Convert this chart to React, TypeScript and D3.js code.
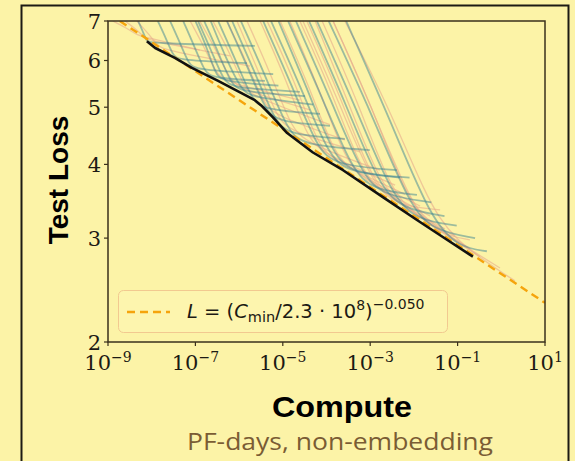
import React from 'react';
import * as d3 from 'd3';

// every point is [log10 compute (PF-days), test loss]
type Pt = [number, number];

const yTickValues = [2, 3, 4, 5, 6, 7];
const xTickExponents = [-9, -7, -5, -3, -1, 1];

// lower envelope of all runs (black)
const frontier: Pt[] = [
  [-8.11, 6.47], [-7.92, 6.3], [-7.47, 6.06], [-7.08, 5.83], [-6.48, 5.54],
  [-5.64, 5.14], [-5.5, 5.04], [-5.22, 4.8], [-4.9, 4.52], [-4.31, 4.19],
  [-3.62, 3.91], [-2.71, 3.52], [-1.93, 3.22], [-1.33, 3.01], [-0.65, 2.79],
];

// power-law fit shown in the legend (dashed)
const fitLine: Pt[] = [[-8.73, 7.0], [1.0, 2.33]];

// learning curves of the smaller models, the ones that plateau (teal)
const tealRuns: Pt[][] = [
  [[-8.31, 7.0], [-8.21, 6.74], [-8.12, 6.48], [-8.06, 6.42], [-5.64, 6.35]],
  [[-7.86, 7.0], [-7.67, 6.53], [-7.51, 6.12], [-7.4, 6.01], [-5.82, 5.94]],
  [[-7.58, 7.0], [-7.35, 6.42], [-7.15, 5.92], [-7.01, 5.78], [-5.22, 5.69]],
  [[-7.28, 7.0], [-7.02, 6.33], [-6.79, 5.75], [-6.62, 5.6], [-5.41, 5.54]],
  [[-7.0, 7.0], [-6.75, 6.35], [-6.55, 5.72], [-6.4, 5.52], [-5.1, 5.44]],
  [[-6.94, 7.0], [-6.63, 6.22], [-6.36, 5.56], [-6.16, 5.39], [-4.61, 5.31]],
  [[-6.8, 7.0], [-6.47, 6.18], [-6.19, 5.49], [-5.98, 5.31], [-4.49, 5.22]],
  [[-6.65, 7.0], [-6.3, 6.05], [-5.95, 5.35], [-5.72, 5.2], [-4.3, 5.05]],
  [[-6.48, 7.0], [-6.07, 5.99], [-5.71, 5.16], [-5.45, 4.95], [-4.15, 4.87]],
  [[-6.28, 7.0], [-5.81, 5.86], [-5.4, 4.95], [-5.11, 4.72], [-3.92, 4.65]],
  [[-6.16, 7.0], [-5.64, 5.73], [-5.18, 4.74], [-4.86, 4.49], [-3.58, 4.42]],
  [[-5.96, 7.0], [-5.39, 5.63], [-4.89, 4.57], [-4.54, 4.31], [-3.01, 4.23]],
  [[-5.45, 7.0], [-4.79, 5.44], [-4.22, 4.27], [-3.81, 3.99], [-2.39, 3.91]],
  [[-5.27, 7.0], [-4.57, 5.37], [-3.97, 4.17], [-3.53, 3.88], [-2.32, 3.8]],
  [[-5.1, 7.0], [-4.45, 5.4], [-3.85, 4.15], [-3.4, 3.86], [-2.1, 3.8]],
  [[-4.88, 7.0], [-4.1, 5.2], [-3.42, 3.92], [-2.94, 3.62], [-1.93, 3.55]],
  [[-4.7, 7.0], [-3.9, 5.15], [-3.2, 3.85], [-2.7, 3.54], [-1.6, 3.45]],
  [[-4.4, 7.0], [-3.55, 5.05], [-2.8, 3.68], [-2.25, 3.36], [-1.3, 3.27]],
  [[-4.22, 7.0], [-3.3, 4.94], [-2.5, 3.53], [-1.93, 3.22], [-1.02, 3.15]],
  [[-3.95, 7.0], [-2.95, 4.85], [-2.1, 3.4], [-1.55, 3.09], [-0.6, 3.0]],
  [[-3.55, 7.0], [-2.51, 4.7], [-1.6, 3.21], [-0.95, 2.89], [-0.33, 2.85]],
];

// learning curves drawn in pale orange
const orangeRuns: Pt[][] = [
  [[-8.89, 7.0], [-8.59, 6.82], [-8.34, 6.63], [-8.15, 6.57], [-6.9, 6.25]],
  [[-8.61, 7.0], [-8.36, 6.78], [-8.15, 6.54], [-7.99, 6.47], [-6.21, 6.11]],
  [[-8.34, 7.0], [-8.08, 6.67], [-7.86, 6.35], [-7.7, 6.25], [-5.75, 5.87]],
  [[-7.12, 7.0], [-6.8, 6.33], [-6.52, 5.7], [-6.32, 5.52], [-4.61, 5.14]],
  [[-6.9, 7.0], [-6.53, 6.26], [-6.21, 5.57], [-5.98, 5.37], [-4.38, 4.95]],
  [[-6.6, 7.0], [-6.21, 6.18], [-5.88, 5.39], [-5.64, 5.2], [-3.92, 4.67]],
  [[-6.28, 7.0], [-5.84, 5.99], [-5.45, 5.09], [-5.18, 4.84], [-3.58, 4.4]],
  [[-6.05, 7.0], [-5.56, 5.76], [-5.14, 4.83], [-4.84, 4.54], [-3.23, 4.2]],
  [[-5.82, 7.0], [-5.29, 5.73], [-4.82, 4.65], [-4.49, 4.35], [-2.78, 3.91]],
  [[-5.52, 7.0], [-4.95, 5.63], [-4.46, 4.48], [-4.1, 4.17], [-2.43, 3.69]],
  [[-5.36, 7.0], [-4.74, 5.56], [-4.2, 4.31], [-3.81, 4.04], [-2.2, 3.56]],
  [[-5.06, 7.0], [-4.42, 5.48], [-3.86, 4.23], [-3.46, 3.9], [-1.86, 3.4]],
  [[-4.84, 7.0], [-4.18, 5.4], [-3.6, 4.12], [-3.19, 3.77], [-1.63, 3.27]],
  [[-4.61, 7.0], [-3.87, 5.29], [-3.23, 3.94], [-2.78, 3.59], [-1.29, 3.11]],
  [[-4.54, 7.0], [-3.7, 5.07], [-2.96, 3.72], [-2.43, 3.41], [-1.4, 3.35]],
  [[-4.45, 7.0], [-3.69, 5.23], [-3.02, 3.85], [-2.55, 3.49], [-1.06, 3.02]],
  [[-4.26, 7.0], [-3.49, 5.07], [-2.81, 3.77], [-2.32, 3.41], [-0.72, 2.88]],
  [[-4.1, 7.0], [-3.28, 5.1], [-2.56, 3.66], [-2.04, 3.3], [-0.49, 2.79]],
  [[-3.85, 7.0], [-2.96, 5.01], [-2.19, 3.53], [-1.63, 3.16], [-0.03, 2.67]],
  [[-3.85, 7.0], [-2.87, 4.81], [-2.02, 3.36], [-1.4, 3.04], [-0.72, 2.98]],
  [[-3.58, 7.0], [-2.6, 5.05], [-1.74, 3.55], [-1.13, 2.98], [0.31, 2.54]],
];

const W = 575;
const H = 461;
const plot = { left: 108, right: 545, top: 21, bottom: 342 };
const BG = '#fcf3a7';
const INK = '#1c1a14';

export default function App() {
  const x = d3.scaleLog().domain([1e-9, 1e1]).range([plot.left, plot.right]);
  const y = d3.scaleLog().domain([2, 7]).range([plot.bottom, plot.top]);

  const smooth = d3.line<Pt>()
    .x(d => x(Math.pow(10, d[0])))
    .y(d => y(d[1]))
    .curve(d3.curveBasis);
  const straight = d3.line<Pt>()
    .x(d => x(Math.pow(10, d[0])))
    .y(d => y(d[1]));

  const serif = 'DejaVu Serif, serif';
  const sans = 'Liberation Sans, Arial, sans-serif';

  return (
    <svg width={W} height={H} style={{ position: 'absolute', left: 0, top: 0, display: 'block' }}>
      <defs>
        <clipPath id="plot-clip">
          <rect x={plot.left} y={plot.top} width={plot.right - plot.left} height={plot.bottom - plot.top} />
        </clipPath>
      </defs>
      <rect x={0} y={0} width={W} height={H} fill={BG} />
      {/* outer frame */}
      <rect x={21.5} y={5.5} width={547} height={480} fill="none" stroke={INK} strokeWidth={2} />

      <g clipPath="url(#plot-clip)">
        {orangeRuns.map((run, i) => (
          <path key={'o' + i} d={smooth(run) || ''} fill="none" stroke="#e6ac8c" strokeOpacity={0.62} strokeWidth={1.3} />
        ))}
        {tealRuns.map((run, i) => (
          <path key={'t' + i} d={smooth(run) || ''} fill="none" stroke="#347f92" strokeOpacity={0.48} strokeWidth={1.8} />
        ))}
        <path d={straight(fitLine) || ''} fill="none" stroke="#f5a40c" strokeWidth={2.4} strokeDasharray="8,5" />
        <path d={straight(frontier) || ''} fill="none" stroke="#111" strokeWidth={2.6} strokeLinejoin="round" />
      </g>

      {/* plot frame */}
      <rect x={plot.left} y={plot.top} width={plot.right - plot.left} height={plot.bottom - plot.top}
        fill="none" stroke="#3a301c" strokeWidth={1.5} />

      {/* y axis */}
      {yTickValues.map(v => (
        <g key={'y' + v}>
          <line x1={plot.left - 4} x2={plot.left} y1={y(v)} y2={y(v)} stroke="#3a301c" strokeWidth={1.2} />
          <text x={101} y={y(v)} dy="0.36em" textAnchor="end" fontFamily={serif} fontSize={21} fill={INK}>{v}</text>
        </g>
      ))}

      {/* x axis */}
      {xTickExponents.map(e => (
        <g key={'x' + e}>
          <line x1={x(Math.pow(10, e))} x2={x(Math.pow(10, e))} y1={plot.bottom} y2={plot.bottom + 4} stroke="#3a301c" strokeWidth={1.2} />
          <text x={x(Math.pow(10, e))} y={370} textAnchor="middle" fontFamily={serif} fontSize={21} fill={INK}>
            10<tspan dy={-8} fontSize={14}>{e < 0 ? '\u2212' + Math.abs(e) : String(e)}</tspan>
          </text>
        </g>
      ))}

      {/* legend */}
      <rect x={118.5} y={290.5} width={329} height={42} rx={5} fill="#fdf5ae" stroke="#f2c990" strokeWidth={1} />
      <line x1={127} x2={170} y1={312} y2={312} stroke="#f5a40c" strokeWidth={2.4} strokeDasharray="8,5" />
      <text x={187} y={318} fontFamily="DejaVu Sans, sans-serif" fontSize={19.5} fill={INK} style={{ whiteSpace: 'pre' }}>
        <tspan fontStyle="italic">L</tspan>
        <tspan>{' = ('}</tspan>
        <tspan fontStyle="italic">C</tspan>
        <tspan fontSize={14.5} dy={4}>min</tspan>
        <tspan dy={-4}>{'/2.3 \u00b7 10'}</tspan>
        <tspan fontSize={14} dy={-8}>8</tspan>
        <tspan dy={8}>)</tspan>
        <tspan fontSize={14} dy={-9}>{'\u22120.050'}</tspan>
      </text>

      {/* axis titles */}
      <text transform="translate(68,180) rotate(-90)" textAnchor="middle" fontFamily={sans} fontWeight="bold" fontSize={28} fill="#000">Test Loss</text>
      <text x={342} y={417} textAnchor="middle" fontFamily={sans} fontWeight="bold" fontSize={30} fill="#000"
        textLength={140} lengthAdjust="spacingAndGlyphs">Compute</text>
      <text x={340} y={450} textAnchor="middle" fontFamily="Open Sans, Liberation Sans, sans-serif" fontSize={23} fill="#7a5c34"
        textLength={306} lengthAdjust="spacingAndGlyphs">PF-days, non-embedding</text>
    </svg>
  );
}
